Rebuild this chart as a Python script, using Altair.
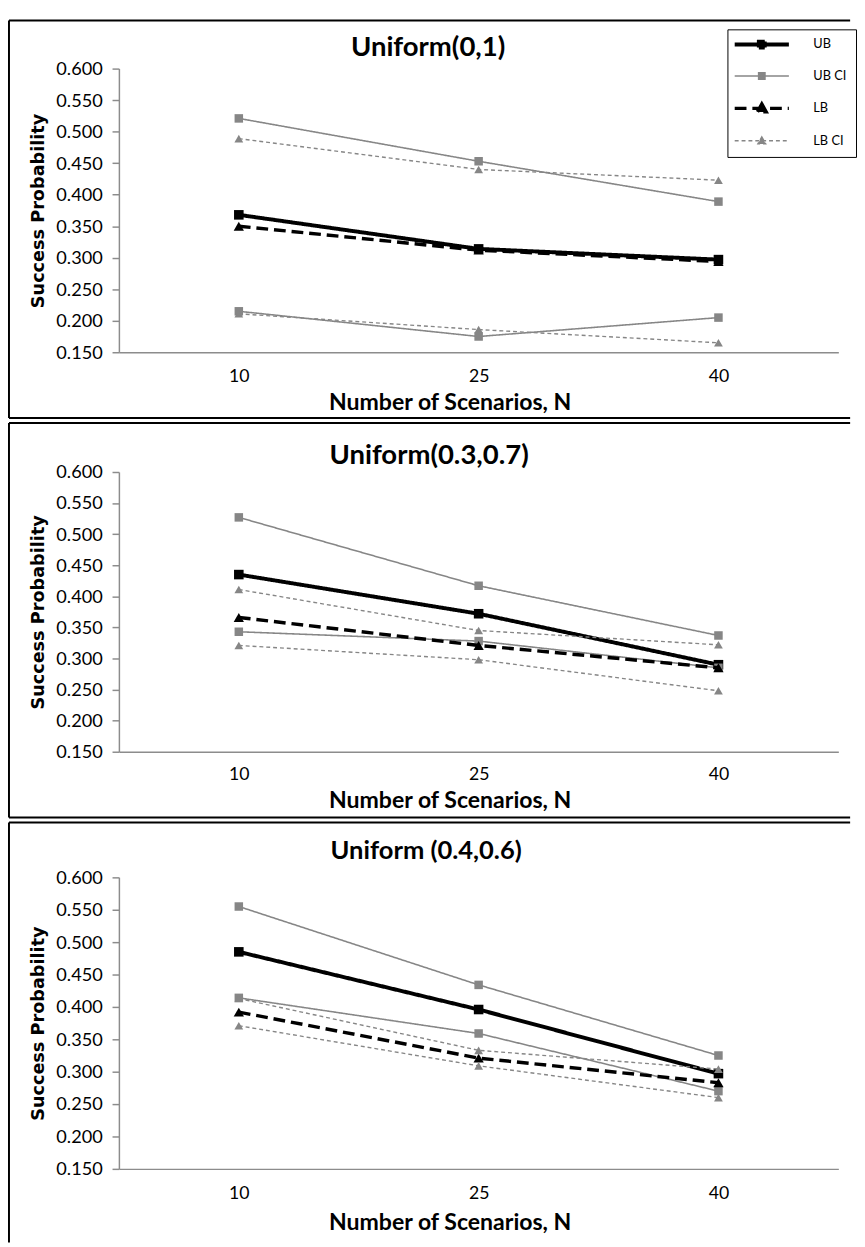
import json
import altair as alt
import pandas as pd

# ---------------- data ----------------
N_VALUES = [10, 25, 40]
SERIES = ["UB", "UB CI", "LB", "LB CI"]
PANEL_TITLES = ["Uniform(0,1)", "Uniform(0.3,0.7)", "Uniform (0.4,0.6)"]
Y_TICKS = [0.15, 0.20, 0.25, 0.30, 0.35, 0.40, 0.45, 0.50, 0.55, 0.60]
X_TITLE = "Number of Scenarios, N"
Y_TITLE = "Success Probability"

# Uniform(0,1)
u01_ub = [0.368, 0.314, 0.297]
u01_ubci_hi = [0.521, 0.453, 0.389]
u01_ubci_lo = [0.215, 0.175, 0.205]
u01_lb = [0.350, 0.312, 0.294]
u01_lbci_hi = [0.489, 0.440, 0.423]
u01_lbci_lo = [0.211, 0.186, 0.165]

# Uniform(0.3,0.7)
u37_ub = [0.435, 0.372, 0.290]
u37_ubci_hi = [0.527, 0.417, 0.337]
u37_ubci_lo = [0.343, 0.328, 0.285]
u37_lb = [0.366, 0.321, 0.285]
u37_lbci_hi = [0.411, 0.345, 0.322]
u37_lbci_lo = [0.321, 0.298, 0.248]

# Uniform (0.4,0.6)
u46_ub = [0.485, 0.396, 0.297]
u46_ubci_hi = [0.555, 0.434, 0.325]
u46_ubci_lo = [0.414, 0.359, 0.270]
u46_lb = [0.392, 0.321, 0.283]
u46_lbci_hi = [0.413, 0.333, 0.304]
u46_lbci_lo = [0.371, 0.309, 0.260]


def make_df(ub, ubci_hi, ubci_lo, lb, lbci_hi, lbci_lo):
    rows = []
    for series, part, vals in [
        ("UB", "mid", ub), ("UB CI", "hi", ubci_hi), ("UB CI", "lo", ubci_lo),
        ("LB", "mid", lb), ("LB CI", "hi", lbci_hi), ("LB CI", "lo", lbci_lo),
    ]:
        for n, v in zip(N_VALUES, vals):
            rows.append({"N": n, "value": v, "series": series, "part": part})
    return pd.DataFrame(rows)


DATASETS = [
    make_df(u01_ub, u01_ubci_hi, u01_ubci_lo, u01_lb, u01_lbci_hi, u01_lbci_lo),
    make_df(u37_ub, u37_ubci_hi, u37_ubci_lo, u37_lb, u37_lbci_hi, u37_lbci_lo),
    make_df(u46_ub, u46_ubci_hi, u46_ubci_lo, u46_lb, u46_lbci_hi, u46_lbci_lo),
]

# ---------------- styles ----------------
BLACK = "#000000"
GRAY = "#868686"
COLORS = {"UB": BLACK, "UB CI": GRAY, "LB": BLACK, "LB CI": GRAY}
WIDTHS = {"UB": 4, "UB CI": 1.6, "LB": 3.5, "LB CI": 1.4}
DASHES = {"UB": [1, 0], "UB CI": [1, 0], "LB": [12, 6], "LB CI": [4, 3]}
SHAPES = {"UB": "square", "UB CI": "square", "LB": "triangle-up", "LB CI": "triangle-up"}
SIZES = {"UB": 95, "UB CI": 75, "LB": 110, "LB CI": 80}
LEGEND_PATHS = {
    "UB": "M-6.9,0H6.9M-0.75,-0.75H0.75V0.75H-0.75Z",
    "UB CI": "M-6.9,0H6.9M-0.8,-0.8H0.8V0.8H-0.8Z",
    "LB": "M-6.9,0H6.9M0,-1.1L1.1,0.9H-1.1Z",
    "LB CI": "M-6.9,0H6.9M0,-1.0L1.0,0.8H-1.0Z",
}

FONT = "Lato"
W = 733


def by_series(mapping):
    expr = json.dumps(mapping[SERIES[-1]])
    for s in reversed(SERIES[:-1]):
        expr = f"datum.value === {json.dumps(s)} ? {json.dumps(mapping[s])} : ({expr})"
    return expr


def panel(df, title, title_size, h, fy, fy2, bottom_edge, tx, ty, lab_pad, xt_y, lx, ly):
    legend = alt.Legend(
        title=None, orient="none", legendX=lx, legendY=ly, direction="vertical",
        symbolSize=64, symbolOffset=19.5, labelOffset=46, padding=9, rowPadding=14,
        strokeColor="black", fillColor="white",
        labelFont=FONT, labelFontSize=13, labelColor="black",
        labelExpr="datum.label + '" + "\u00a0" * 4 + "'",
        symbolType={"expr": by_series(LEGEND_PATHS)},
        symbolDash={"expr": by_series(DASHES)},
        symbolStrokeWidth={"expr": by_series(WIDTHS)},
        symbolFillColor={"expr": by_series(COLORS)},
        symbolStrokeColor={"expr": by_series(COLORS)},
        symbolOpacity=1,
    )
    color = alt.Color("series:N", scale=alt.Scale(domain=SERIES, range=[COLORS[s] for s in SERIES]),
                      legend=legend)
    x = alt.X("N:O", sort=N_VALUES,
              scale=alt.Scale(type="point", padding=0.5),
              axis=alt.Axis(labelAngle=0, ticks=False, tickSize=0, grid=False,
                            domainColor="#8c8c8c", domainWidth=1.5,
                            labelFont=FONT, labelFontSize=18, labelColor="black",
                            labelPadding=lab_pad, labelBaseline="middle",
                            title=X_TITLE, titleFont=FONT, titleFontSize=23.5,
                            titleFontWeight="bold", titleColor="black",
                            titleX=337, titleY=xt_y, titleAlign="center",
                            titleBaseline="middle"))
    y = alt.Y("value:Q",
              scale=alt.Scale(domain=[0.15, 0.6], nice=False, zero=False),
              axis=alt.Axis(values=Y_TICKS, format=".3f", grid=False,
                            domainColor="#8c8c8c", domainWidth=1.5,
                            tickColor="#8c8c8c", tickWidth=1.5, tickSize=7,
                            labelFont=FONT, labelFontSize=18.5, labelColor="black",
                            labelPadding=10,
                            title=Y_TITLE, titleFont="DejaVu Sans", titleFontSize=18,
                            titleFontWeight="bold", titleColor="black",
                            titleX=-82, titleY=h / 2, titleAngle=270,
                            titleAlign="center", titleBaseline="middle"))

    one = alt.Chart(pd.DataFrame({"f": [0]}))
    edge = dict(color="black", strokeWidth=2)
    layers = [
        one.mark_rule(**edge).encode(x=alt.value(-112), x2=alt.value(745), y=alt.value(fy)),
        one.mark_rule(**edge).encode(x=alt.value(-112), y=alt.value(fy), y2=alt.value(fy2)),
    ]
    if bottom_edge:
        layers.append(one.mark_rule(**edge).encode(x=alt.value(-112), x2=alt.value(745),
                                                   y=alt.value(fy2)))
    layers.append(one.mark_text(
        font=FONT, fontSize=title_size, fontWeight="bold", color="black",
        align="center", baseline="middle"
    ).encode(x=alt.value(tx), y=alt.value(ty), text=alt.value(title)))

    base = alt.Chart(df)
    for s in SERIES:
        sub = base.transform_filter(alt.datum.series == s)
        pts = sub.mark_point(filled=True, shape=SHAPES[s], size=SIZES[s], opacity=1).encode(
            x=x, y=y, color=color)
        ln = sub.mark_line(strokeWidth=WIDTHS[s], strokeDash=DASHES[s]).encode(
            x=x, y=y, color=color, detail="part:N")
        layers.extend([ln, pts] if s != SERIES[0] else [pts, ln])
    return alt.layer(*layers).properties(width=W, height=h)


p1 = panel(DATASETS[0], PANEL_TITLES[0], 28, 289, -49, 356, True, 315, -21, 25, 51, 620, -40)
p2 = panel(DATASETS[1], PANEL_TITLES[1], 28, 285, -50, 352, True, 316, -16, 23, 50, 610, -27)
p3 = panel(DATASETS[2], PANEL_TITLES[2], 26, 297, -56, 372, False, 313, -27, 25, 55, 592, -29)

chart = alt.vconcat(p1, p2, p3, spacing=3).properties(padding=0).configure_view(stroke=None)
chart.save("out.html", embed_options={"renderer": "svg", "actions": False})
